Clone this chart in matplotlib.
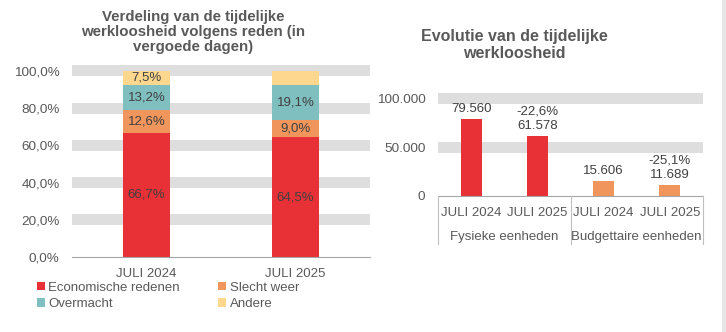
import matplotlib.pyplot as plt
from matplotlib.patches import Patch
from matplotlib.lines import Line2D

plt.rcParams['font.family'] = ['Liberation Sans', 'DejaVu Sans']

# left chart: share of compensated days per reason
periods = ["JULI 2024", "JULI 2025"]
reasons = ["Economische redenen", "Slecht weer", "Overmacht", "Andere"]
shares_2024 = [66.7, 12.6, 13.2, 7.5]
shares_2025 = [64.5, 9.0, 19.1, 7.4]
show_label_2025 = [True, True, True, False]
pct_ticks = [0, 20, 40, 60, 80, 100]

# right chart: temporary unemployment
units = ["Fysieke eenheden", "Budgettaire eenheden"]
fysiek = [79560, 61578]
budget = [15606, 11689]
count_ticks = [0, 50000, 100000]

RED = "#e83137"
ORANGE = "#f0955c"
TEAL = "#7fbfbf"
YELLOW = "#fdd78e"
colors = [RED, ORANGE, TEAL, YELLOW]
BAND = "#dedede"
TXT = "#595959"
LBL = "#404040"

W, H = 726, 332
fig = plt.figure(figsize=(W / 100, H / 100), dpi=100)


def px_axes(x0, y_top, x1, y_bot):
    return fig.add_axes([x0 / W, 1 - y_bot / H, (x1 - x0) / W, (y_bot - y_top) / H])


def nl(v):
    return f"{v:,.0f}".replace(",", ".")


def pct(v):
    return f"{v:.1f}%".replace(".", ",")


# ---------------- left chart ----------------
ax = px_axes(72, 71, 370, 257)
ax.set_xlim(-0.5, 1.5)
ax.set_ylim(0, 100)
half = 5.5 / 186 * 100
for t in pct_ticks[1:]:
    ax.axhspan(t - half, t + half, color=BAND, lw=0, clip_on=False, zorder=0)

stacks = [shares_2024, shares_2025]
labels_on = [[True] * 4, show_label_2025]
for i, vals in enumerate(stacks):
    bottom = 0
    for j, v in enumerate(vals):
        ax.bar(i, v, bottom=bottom, width=0.31, color=colors[j], zorder=2)
        if labels_on[i][j]:
            ax.text(i, bottom + v / 2, pct(v), ha="center", va="center",
                    fontsize=9.5, color=LBL, zorder=3)
        bottom += v

ax.set_yticks(pct_ticks)
ax.set_yticklabels([pct(t) for t in pct_ticks])
ax.set_xticks(range(len(periods)))
ax.set_xticklabels(periods)
ax.tick_params(axis="y", length=0, pad=9, labelsize=9.7, labelcolor=TXT)
ax.tick_params(axis="x", length=0, pad=8, labelsize=9.5, labelcolor=TXT)
for s in ["top", "right", "left"]:
    ax.spines[s].set_visible(False)
ax.spines["bottom"].set_color("#a6a6a6")
ax.spines["bottom"].set_zorder(4)

# legend filled row by row: matplotlib fills columns, so reorder
order = [0, 2, 1, 3]
handles = [Patch(facecolor=colors[k], edgecolor="none") for k in order]
fig.legend(handles, [reasons[k] for k in order], loc="upper left",
           bbox_to_anchor=(30 / W, 1 - 275 / H),
           ncol=2, frameon=False, fontsize=9.5, labelcolor=TXT,
           handlelength=0.6, handleheight=0.6, handletextpad=0.3,
           columnspacing=2.9, labelspacing=0.35, borderpad=0)

fig.text(193 / W, 1 - 32 / H,
         "Verdeling van de tijdelijke\nwerkloosheid volgens reden (in\nvergoede dagen)",
         ha="center", va="center", fontsize=10.8, fontweight="bold", color=TXT,
         linespacing=1.1)

# ---------------- right chart ----------------
bx = px_axes(438, 99, 703, 196)
bx.set_xlim(-0.5, 3.5)
bx.set_ylim(0, 100000)
half2 = 5.5 / 97 * 100000
for t in count_ticks[1:]:
    bx.axhspan(t - half2, t + half2, color=BAND, lw=0, clip_on=False, zorder=0)

series = [(fysiek, RED), (budget, ORANGE)]
for g, (vals, c) in enumerate(series):
    for k, v in enumerate(vals):
        x = g * 2 + k
        bx.bar(x, v, width=0.32, color=c, zorder=2)
        txt = nl(v)
        if k == 1:
            txt = pct((v / vals[0] - 1) * 100) + "\n" + txt
        bx.text(x, v + 4000, txt, ha="center", va="bottom", fontsize=9.5,
                color=LBL, linespacing=1.3, zorder=3)

bx.set_yticks(count_ticks)
bx.set_yticklabels([nl(t) for t in count_ticks])
bx.set_xticks(range(4))
bx.set_xticklabels(periods * 2)
bx.tick_params(axis="y", length=0, pad=9, labelsize=9.7, labelcolor=TXT)
bx.tick_params(axis="x", length=0, pad=8, labelsize=9.5, labelcolor=TXT)
for s in ["top", "right", "left"]:
    bx.spines[s].set_visible(False)
bx.spines["bottom"].set_color("#a6a6a6")

# group labels and separators below the axis
for g, name in enumerate(units):
    fig.text((438 + 132.5 * g + 66) / W, 1 - 237 / H, name, ha="center", va="center",
             fontsize=9.5, color=TXT)
for xp in [438, 570.5, 703]:
    fig.add_artist(Line2D([xp / W, xp / W], [1 - 196 / H, 1 - 244 / H],
                          color="#bfbfbf", lw=0.8))

fig.text(514 / W, 1 - 45 / H, "Evolutie van de tijdelijke\nwerkloosheid",
         ha="center", va="center", fontsize=11.5, fontweight="bold", color=TXT,
         linespacing=1.2)

# page edge on the right
fig.add_artist(Line2D([723.5 / W, 723.5 / W], [0, 1], color="#e6e6e6", lw=3))

fig.savefig("out.png", dpi=100)
